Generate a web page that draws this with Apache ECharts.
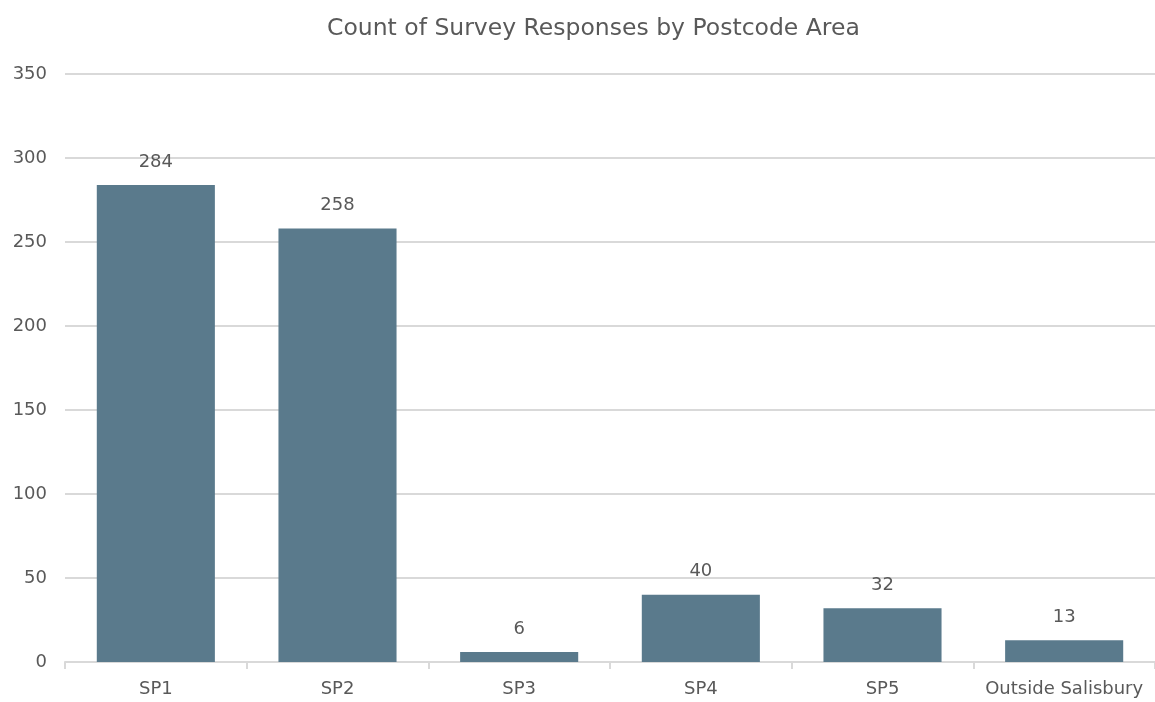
<!DOCTYPE html>
<html>
<head>
<meta charset="utf-8">
<script src="https://cdn.jsdelivr.net/npm/echarts@6/dist/echarts.min.js"></script>
<style>
  html, body { margin: 0; padding: 0; background: #fff; }
  #chart { width: 1155px; height: 702px; }
</style>
</head>
<body>
<div id="chart"></div>
<script>
const categories = ['SP1', 'SP2', 'SP3', 'SP4', 'SP5', 'Outside Salisbury']
const responses = [284, 258, 6, 40, 32, 13]
const yTicks = { min: 0, max: 350, interval: 50 }

const textColor = '#595959'
const font = 'DejaVu Sans'

const chart = echarts.init(document.getElementById('chart'))
chart.setOption({
  animation: false,
  title: {
    text: 'Count of Survey Responses by Postcode Area',
    left: 322,
    top: 12,
    textStyle: { color: textColor, fontFamily: font, fontSize: 23.5, fontWeight: 'normal' }
  },
  grid: { left: 65, right: -2, top: 74, bottom: 40, containLabel: false },
  xAxis: {
    type: 'category',
    data: categories,
    axisLine: { lineStyle: { color: '#d9d9d9', width: 2 } },
    axisTick: { show: true, interval: 0, length: 7, lineStyle: { color: '#d9d9d9', width: 2 } },
    axisLabel: { interval: 0, color: textColor, fontFamily: font, fontSize: 18, margin: 18 }
  },
  yAxis: {
    type: 'value',
    min: yTicks.min,
    max: yTicks.max,
    interval: yTicks.interval,
    axisLine: { show: false },
    axisTick: { show: false },
    splitLine: { lineStyle: { color: '#d9d9d9', width: 2 } },
    axisLabel: { color: textColor, fontFamily: font, fontSize: 18, margin: 18 }
  },
  series: [{
    type: 'bar',
    data: responses,
    barWidth: '65%',
    itemStyle: { color: '#5a7a8c' },
    label: {
      show: true,
      position: 'top',
      distance: 14,
      color: textColor,
      fontFamily: font,
      fontSize: 18
    }
  }]
})
</script>
</body>
</html>
